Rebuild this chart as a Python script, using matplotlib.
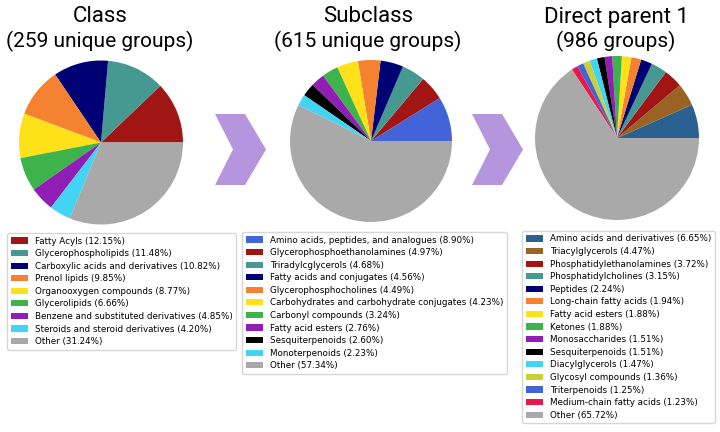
import matplotlib
matplotlib.use("Agg")
import matplotlib.pyplot as plt
from matplotlib.patches import Polygon

W, H = 720, 432

class_labels = ["Fatty Acyls", "Glycerophospholipids", "Carboxylic acids and derivatives",
                "Prenol lipids", "Organooxygen compounds", "Glycerolipids",
                "Benzene and substituted derivatives", "Steroids and steroid derivatives", "Other"]
class_values = [12.15, 11.48, 10.82, 9.85, 8.77, 6.66, 4.85, 4.20, 31.24]
class_colors = ["#a21515", "#469990", "#000075", "#f58231", "#ffe119", "#3cb44b",
                "#911eb4", "#42d4f4", "#a9a9a9"]

sub_labels = ["Amino acids, peptides, and analogues", "Glycerophosphoethanolamines",
              "Triradylcglycerols", "Fatty acids and conjugates", "Glycerophosphocholines",
              "Carbohydrates and carbohydrate conjugates", "Carbonyl compounds",
              "Fatty acid esters", "Sesquiterpenoids", "Monoterpenoids", "Other"]
sub_values = [8.90, 4.97, 4.68, 4.56, 4.49, 4.23, 3.24, 2.76, 2.60, 2.23, 57.34]
sub_colors = ["#4363d8", "#a21515", "#469990", "#000075", "#f58231", "#ffe119",
              "#3cb44b", "#911eb4", "#000000", "#42d4f4", "#a9a9a9"]

dp_labels = ["Amino acids and derivatives", "Triacylglycerols", "Phosphatidylethanolamines",
             "Phosphatidylcholines", "Peptides", "Long-chain fatty acids", "Fatty acid esters",
             "Ketones", "Monosaccharides", "Sesquiterpenoids", "Diacylglycerols",
             "Glycosyl compounds", "Triterpenoids", "Medium-chain fatty acids", "Other"]
dp_values = [6.65, 4.47, 3.72, 3.15, 2.24, 1.94, 1.88, 1.88, 1.51, 1.51, 1.47, 1.36,
             1.25, 1.23, 65.72]
dp_colors = ["#2b6191", "#9a6324", "#a21515", "#469990", "#000075", "#f58231", "#ffe119",
             "#3cb44b", "#911eb4", "#000000", "#42d4f4", "#c8d236", "#4363d8", "#e6194b",
             "#a9a9a9"]

titles = ["Class", "Subclass", "Direct parent 1"]
subtitles = ["(259 unique groups)", "(615 unique groups)", "(986 groups)"]

fig = plt.figure(figsize=(W / 100, H / 100), dpi=100)

def px_axes(cx, cy, r):
    return fig.add_axes([(cx - r) / W, 1 - (cy + r) / H, 2 * r / W, 2 * r / H])

pies = [
    (101, 142.5, 82, class_values, class_colors, class_labels, 100, (7, 233)),
    (371, 141, 81, sub_values, sub_colors, sub_labels, 368, (242, 232)),
    (617, 138, 82, dp_values, dp_colors, dp_labels, 616, (522, 231)),
]

for i, (cx, cy, r, vals, cols, labs, tx, lpos) in enumerate(pies):
    ax = px_axes(cx, cy, r)
    wedges, _ = ax.pie(vals, colors=cols, startangle=0, counterclock=True,
                       wedgeprops=dict(linewidth=0))
    ax.set_xlim(-1, 1)
    ax.set_ylim(-1, 1)
    ax.set_aspect("equal")
    ax.axis("off")
    fig.text(tx / W, 1 - 17 / H, titles[i], ha="center", va="center",
             fontsize=16, family="Roboto")
    fig.text(tx / W, 1 - 41 / H, subtitles[i], ha="center", va="center",
             fontsize=15, family="Roboto")
    leg_labels = [f"{l} ({v:.2f}%)" for l, v in zip(labs, vals)]
    fig.legend(wedges, leg_labels, loc="upper left",
               bbox_to_anchor=(lpos[0] / W, 1 - lpos[1] / H),
               fontsize=6.3, labelspacing=0.41, frameon=True, borderaxespad=0)

arrow_color = "#b595dd"
for dx in (0, 257):
    pts = [(215, 114), (245, 114), (266, 149.5), (245, 185), (215, 185), (233, 149.5)]
    pts = [((x + dx) / W, 1 - y / H) for x, y in pts]
    fig.patches.append(Polygon(pts, closed=True, facecolor=arrow_color,
                               edgecolor="none", transform=fig.transFigure))

fig.savefig("out.png", dpi=100)
